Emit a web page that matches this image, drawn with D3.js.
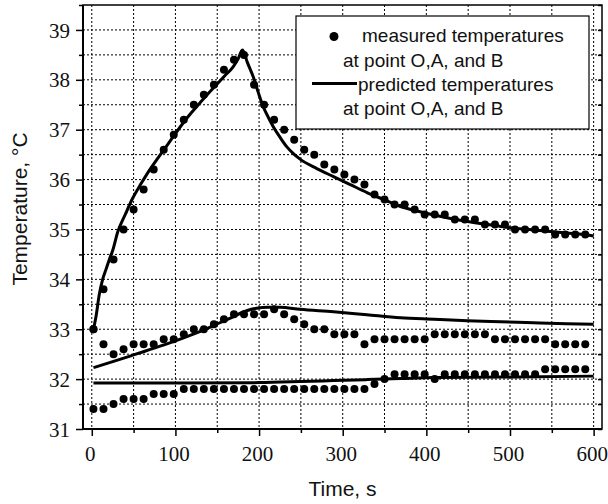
<!DOCTYPE html>
<html>
<head>
<meta charset="utf-8">
<script src="https://cdn.jsdelivr.net/npm/d3@7"></script>
<style>
  html, body { margin: 0; padding: 0; background: #fff; }
</style>
</head>
<body>
<svg id="chart" width="608" height="504"></svg>
<script>
// ---------- DATA ----------
const times = [2,14,26,38,50,62,74,86,98,110,122,134,146,158,170,182,194,206,218,230,242,254,266,278,290,302,314,326,338,350,362,374,386,398,410,422,434,446,458,470,482,494,506,518,530,542,554,566,578,590];

const measuredO = [33.0,33.8,34.4,35.0,35.4,35.8,36.2,36.6,36.9,37.2,37.5,37.7,37.9,38.2,38.4,38.5,37.9,37.5,37.2,37.0,36.8,36.6,36.5,36.3,36.2,36.1,36.0,35.9,35.7,35.6,35.5,35.5,35.4,35.3,35.3,35.3,35.2,35.2,35.2,35.1,35.1,35.1,35.0,35.0,35.0,35.0,34.9,34.9,34.9,34.9];

const measuredA = [33.0,32.7,32.5,32.6,32.7,32.7,32.7,32.8,32.8,32.9,33.0,33.0,33.1,33.2,33.3,33.3,33.3,33.3,33.4,33.3,33.2,33.1,33.0,33.0,32.9,32.9,32.9,32.7,32.8,32.8,32.8,32.8,32.8,32.8,32.9,32.9,32.9,32.9,32.9,32.9,32.8,32.8,32.8,32.8,32.8,32.8,32.7,32.7,32.7,32.7];

const measuredB = [31.4,31.4,31.5,31.6,31.6,31.6,31.7,31.7,31.7,31.8,31.8,31.8,31.8,31.8,31.8,31.8,31.8,31.8,31.8,31.8,31.8,31.8,31.8,31.8,31.8,31.8,31.8,31.8,31.9,32.0,32.1,32.1,32.1,32.1,32.0,32.1,32.1,32.1,32.1,32.1,32.1,32.1,32.1,32.1,32.1,32.2,32.2,32.2,32.2,32.2];

const predTimeO = [2,5,9,13,17,21,25,31,40,49,59,69,79,89,99,109,119,129,139,149,159,169,175,180,181,186,193,199,205,211,217,225,233,241,249,269,289,309,329,349,369,389,409,429,449,469,489,509,528,548,568,588,600];
const predO = [33.0,33.25,33.7,34.0,34.2,34.4,34.58,34.95,35.3,35.63,35.92,36.19,36.43,36.66,36.9,37.13,37.34,37.53,37.72,37.9,38.08,38.26,38.42,38.6,38.58,38.35,38.06,37.75,37.46,37.25,37.06,36.85,36.66,36.52,36.41,36.22,36.06,35.9,35.74,35.6,35.46,35.37,35.29,35.22,35.16,35.11,35.06,35.02,34.99,34.96,34.93,34.9,34.87];

const predTimeA = [2,25,49,69,89,109,129,149,169,185,197,211,225,249,289,329,369,409,449,489,528,568,600];
const predA = [32.23,32.35,32.48,32.59,32.7,32.82,32.95,33.1,33.25,33.37,33.42,33.44,33.44,33.4,33.35,33.29,33.23,33.2,33.17,33.15,33.13,33.11,33.1];

const predTimeB = [2,100,200,249,289,329,369,409,489,600];
const predB = [31.92,31.92,31.93,31.95,31.97,31.99,32.01,32.03,32.04,32.06];

const xTicks = [0,100,200,300,400,500,600];
const xMinor = [50,150,250,350,450,550];
const xGrid = [0,50,100,150,200,250,300,350,400,450,500,550,600];
const yTicks = [31,32,33,34,35,36,37,38,39];
const yMinor = [31.5,32.5,33.5,34.5,35.5,36.5,37.5,38.5,39.5];
const yGrid = [31.5,32,32.5,33,33.5,34,34.5,35,35.5,36,36.5,37,37.5,38,38.5,39];

const legendLabels = ["measured temperatures", "at point O,A, and B", "predicted temperatures", "at point O,A, and B"];
const xTitle = "Time, s";
const yTitle = "Temperature, \u00B0C";

// ---------- LAYOUT ----------
const L = 83, R = 602, T = 5, B = 429;
const svg = d3.select("#chart");

const x = d3.scaleLinear().domain([-10.5, 610]).range([L, R]);
const y = d3.scaleLinear().domain([31, 39.5]).range([B, T]);

const serif = "'Liberation Serif','Times New Roman',Times,serif";
const sans = "'Liberation Sans',Arial,Helvetica,sans-serif";

// grid
const g = svg.append("g");
g.selectAll("line.vg").data(xGrid).enter().append("line")
  .attr("x1", d => x(d)).attr("x2", d => x(d))
  .attr("y1", T).attr("y2", B)
  .attr("stroke", "#000").attr("stroke-width", 1).attr("stroke-dasharray", "2,2");
g.selectAll("line.hg").data(yGrid).enter().append("line")
  .attr("x1", L).attr("x2", R)
  .attr("y1", d => y(d)).attr("y2", d => y(d))
  .attr("stroke", "#000").attr("stroke-width", 1).attr("stroke-dasharray", "2,2");

// frame
svg.append("rect").attr("x", L).attr("y", T).attr("width", R - L).attr("height", B - T)
  .attr("fill", "none").attr("stroke", "#000").attr("stroke-width", 1.5);

// bottom axis
const xAxis = svg.append("g").attr("transform", `translate(0,${B})`)
  .call(d3.axisBottom(x).tickValues(xTicks).tickSize(7).tickPadding(6).tickFormat(d3.format("d")));
const xAxisMinor = svg.append("g").attr("transform", `translate(0,${B})`)
  .call(d3.axisBottom(x).tickValues(xMinor).tickSize(4).tickFormat(""));
// left axis
const yAxis = svg.append("g").attr("transform", `translate(${L},0)`)
  .call(d3.axisLeft(y).tickValues(yTicks).tickSize(7).tickPadding(6).tickFormat(d3.format("d")));
const yAxisMinor = svg.append("g").attr("transform", `translate(${L},0)`)
  .call(d3.axisLeft(y).tickValues(yMinor).tickSize(4).tickFormat(""));
// right axis inward ticks
const yAxisR = svg.append("g").attr("transform", `translate(${R},0)`)
  .call(d3.axisLeft(y).tickValues(yTicks.concat(yMinor)).tickSize(4).tickFormat(""));

[xAxis, xAxisMinor, yAxis, yAxisMinor, yAxisR].forEach(a => {
  a.select(".domain").remove();
  a.selectAll(".tick line").attr("stroke", "#000").attr("stroke-width", 1.5);
  a.selectAll(".tick text").attr("fill", "#111").style("font-family", serif).style("font-size", "21px");
});
yAxis.selectAll(".tick text").attr("dy", "0.34em");
xAxis.selectAll(".tick text").attr("dy", "0.9em").attr("x", -2);

// thick left & bottom axis lines
svg.append("line").attr("x1", L).attr("x2", L).attr("y1", T).attr("y2", B)
  .attr("stroke", "#000").attr("stroke-width", 2);
svg.append("line").attr("x1", L).attr("x2", R).attr("y1", B).attr("y2", B)
  .attr("stroke", "#000").attr("stroke-width", 2);

// predicted lines
const line = d3.line().x(d => x(d[0])).y(d => y(d[1])).curve(d3.curveMonotoneX);
[[predTimeO, predO], [predTimeA, predA], [predTimeB, predB]].forEach(([ts, vs]) => {
  svg.append("path").datum(ts.map((t, i) => [t, vs[i]]))
    .attr("d", line).attr("fill", "none").attr("stroke", "#000").attr("stroke-width", 3);
});

// measured markers
[measuredO, measuredA, measuredB].forEach(vs => {
  svg.append("g").selectAll("circle").data(times.map((t, i) => [t, vs[i]])).enter()
    .append("circle").attr("cx", d => x(d[0])).attr("cy", d => y(d[1])).attr("r", 4)
    .attr("fill", "#000");
});

// legend
const lg = svg.append("g");
lg.append("rect").attr("x", 296).attr("y", 16).attr("width", 293).attr("height", 113)
  .attr("fill", "#fff").attr("stroke", "#000").attr("stroke-width", 1.2);
lg.append("circle").attr("cx", 334).attr("cy", 36.5).attr("r", 4.5).attr("fill", "#000");
lg.append("line").attr("x1", 312).attr("x2", 357).attr("y1", 83.5).attr("y2", 83.5)
  .attr("stroke", "#000").attr("stroke-width", 3);
const lpos = [[362, 42], [343, 67], [358, 91], [343, 115]];
legendLabels.forEach((s, i) => {
  lg.append("text").attr("x", lpos[i][0]).attr("y", lpos[i][1]).text(s)
    .attr("fill", "#111").style("font-family", sans).style("font-size", "19px");
});

// axis titles
svg.append("text").attr("x", (L + R) / 2).attr("y", 496).attr("text-anchor", "middle")
  .text(xTitle).attr("fill", "#111").style("font-family", sans).style("font-size", "21px");
svg.append("text").attr("transform", "translate(27,209) rotate(-90)").attr("text-anchor", "middle")
  .text(yTitle).attr("fill", "#111").style("font-family", sans).style("font-size", "21px");
</script>
</body>
</html>
